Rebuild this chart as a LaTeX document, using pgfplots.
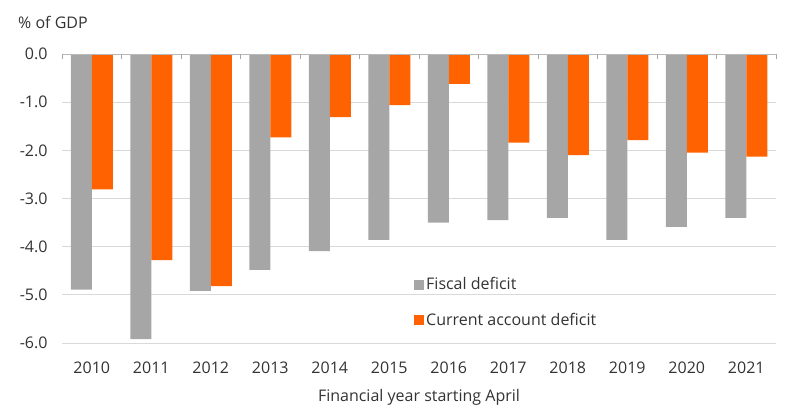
\documentclass[border=0pt]{standalone}
\usepackage{pgfplots}
\pgfplotsset{compat=1.18}
\usepackage{fontspec}
\setmainfont{Open Sans}
\definecolor{ingorange}{HTML}{FF6200}
\definecolor{inggrey}{HTML}{A6A6A6}
\definecolor{gridgrey}{HTML}{D9D9D9}
\definecolor{txt}{HTML}{333333}
\begin{document}
\fontsize{16bp}{19bp}\selectfont
\begin{tikzpicture}
\useasboundingbox (-62bp,-69bp) rectangle (738bp,343bp);
\begin{axis}[
  at={(0,0)}, anchor=south west,
  scale only axis, width=714bp, height=289bp,
  xmin=-0.5, xmax=11.5, ymin=-6, ymax=0,
  ybar=0pt, bar width=21bp,
  axis line style={draw=none},
  major tick length=0pt,
  xtick={0,...,11},
  xticklabels={2010,2011,2012,2013,2014,2015,2016,2017,2018,2019,2020,2021},
  ytick={-6,-5,-4,-3,-2,-1,0},
  yticklabels={-6.0,-5.0,-4.0,-3.0,-2.0,-1.0,0.0},
  ymajorgrids, grid style={gridgrey, line width=1bp},
  tick label style={text=txt, font=\fontsize{16bp}{19bp}\selectfont},
  xticklabel style={yshift=-13bp},
  yticklabel style={xshift=-9bp},
  xlabel={Financial year starting April},
  xlabel style={text=txt, font=\fontsize{16bp}{19bp}\selectfont, yshift=-5bp},
  legend style={draw=none, fill=none, at={(0.493,0.235)}, anchor=north west,
    font=\fontsize{16bp}{19bp}\selectfont, text=txt, row sep=17bp,
    legend cell align=left, inner sep=0pt},
  legend image code/.code={\fill[#1] (0bp,-5bp) rectangle (10bp,5bp);},
  clip=false,
]
\addplot[draw=none, fill=inggrey] coordinates {
(0,-4.89) (1,-5.92) (2,-4.92) (3,-4.48) (4,-4.09) (5,-3.86)
(6,-3.50) (7,-3.45) (8,-3.40) (9,-3.86) (10,-3.59) (11,-3.40)};
\addlegendentry{Fiscal deficit}
\addplot[draw=none, fill=ingorange] coordinates {
(0,-2.81) (1,-4.28) (2,-4.82) (3,-1.73) (4,-1.31) (5,-1.06)
(6,-0.62) (7,-1.84) (8,-2.10) (9,-1.79) (10,-2.05) (11,-2.13)};
\addlegendentry{Current account deficit}
\draw[color=inggrey!80, line width=1bp] (axis cs:-0.5,0) -- (axis cs:11.5,0);
\pgfplotsinvokeforeach{-0.5,0.5,1.5,2.5,3.5,4.5,5.5,6.5,7.5,8.5,9.5,10.5,11.5}{
  \draw[color=inggrey, line width=0.8bp] (axis cs:#1,0) -- ([yshift=-5bp]axis cs:#1,0);
}
\end{axis}
\node[anchor=base west, inner sep=0pt, text=txt, font=\fontsize{16bp}{19bp}\selectfont] at (-44bp,314bp) {\% of GDP};
\end{tikzpicture}
\end{document}
